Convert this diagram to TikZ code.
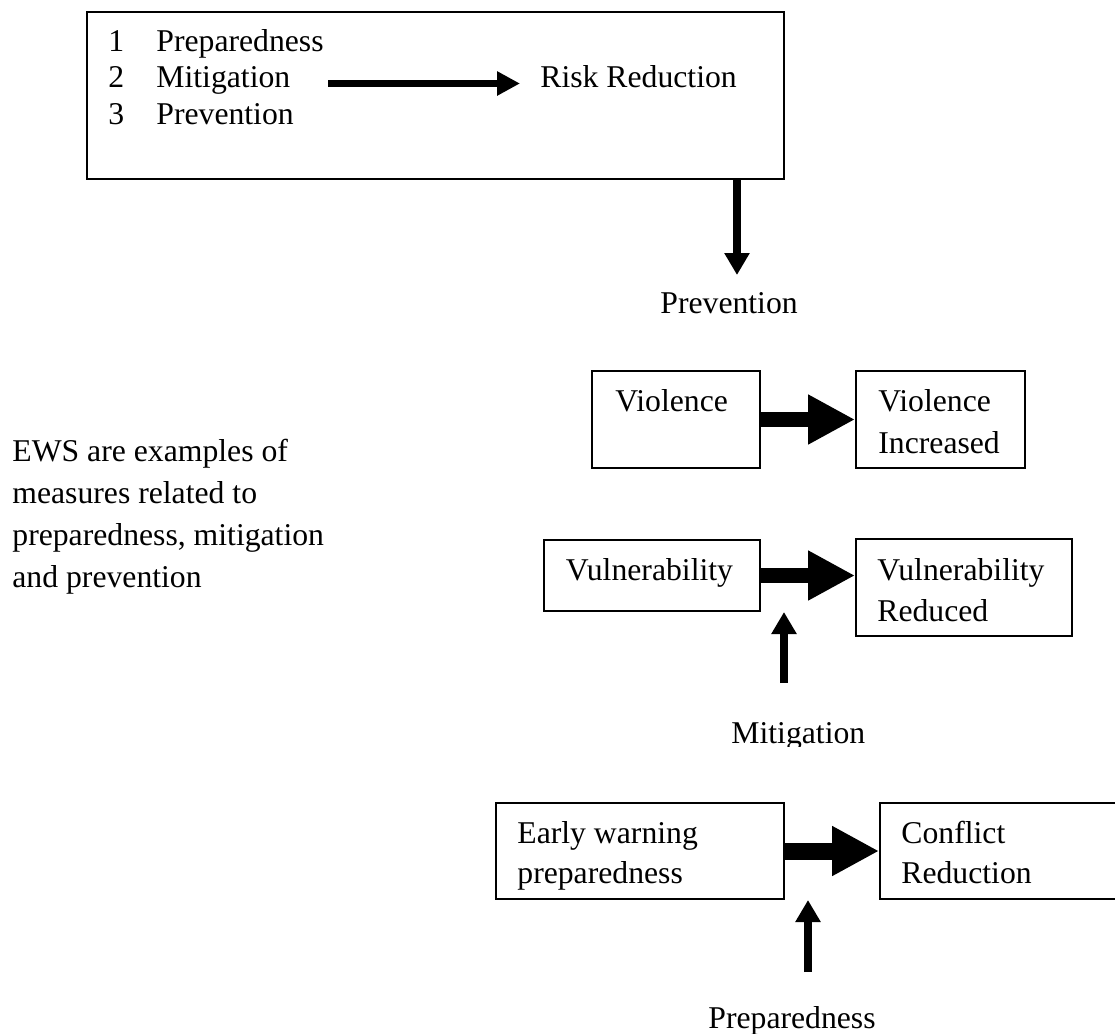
\documentclass[tikz,border=0pt]{standalone}
\usepackage{fontspec}
\setmainfont{Liberation Serif}
\usetikzlibrary{arrows.meta,fit}
\tikzset{
  box/.style={draw=black, line width=1pt, inner sep=0pt, fill=none},
  txt/.style={inner sep=0pt, anchor=base west},
  bigarrow/.style={-{Triangle[length=23.5pt,width=23.5pt]}, line width=7.7pt},
  midarrow/.style={-{Triangle[length=11.5pt,width=11.5pt]}, line width=3.8pt},
  uparrow/.style={-{Triangle[length=11pt,width=12pt]}, line width=4pt},
}
\begin{document}
\begin{tikzpicture}[x=0.5pt,y=-0.5pt,font=\fontsize{15.85pt}{19pt}\selectfont]
\useasboundingbox (0,0) rectangle (1115,1034);
\clip (0,0) rectangle (1115,1034);
% top box
\node[box, fit={(87,12) (784,179)}] (top) {};
\node[txt] (n1) at (108,51) {1};
\node[txt] (t1) at (156,51) {Preparedness};
\node[txt] (n2) at (108,87) {2};
\node[txt] (t2) at (156,87) {Mitigation};
\node[txt] (n3) at (108,124) {3};
\node[txt] (t3) at (156,124) {Prevention};
\node[txt] (rr) at (540,87) {Risk Reduction};
\coordinate (mstart) at (328,83.5);
\draw[midarrow] (mstart) -- (mstart -| rr.west) [shorten >=10pt];
% down arrow
\coordinate (dtop) at (737,179);
\coordinate (dtip) at (737,275);
\draw[uparrow] (dtop) -- (dtip);
\node[txt] (prev) at (660,313) {Prevention};
% violence row
\node[box, fit={(592,371) (760,468)}] (vio) {};
\node[txt] (viot) at (615,411) {Violence};
\node[box, fit={(856,371) (1025,468)}] (vinc) {};
\node[txt] (vinct1) at (878,411) {Violence};
\node[txt] (vinct2) at (878,453) {Increased};
\draw[bigarrow, line width=7.5pt] (vio.east) -- (vinc.west);
% EWS text
\node[txt] (e1) at (12,461) {EWS are examples of};
\node[txt] (e2) at (12,503) {measures related to};
\node[txt] (e3) at (12,545) {preparedness, mitigation};
\node[txt] (e4) at (12,587) {and prevention};
% vulnerability row
\node[box, fit={(543.5,540) (760,611)}] (vul) {};
\node[txt] (vult) at (565.5,580) {Vulnerability};
\node[box, fit={(856,539) (1072,636)}] (vred) {};
\node[txt] (vredt1) at (877,580) {Vulnerability};
\node[txt] (vredt2) at (877,621) {Reduced};
\draw[bigarrow, line width=7.5pt] (vul.east) -- (vul.east -| vred.west);
\coordinate (mbot) at (784,683);
\coordinate (mtip) at (784,612);
\draw[uparrow] (mbot) -- (mtip);
\begin{scope}
  \clip (700,700) rectangle (900,746);
  \node[txt] (mit) at (731,743) {Mitigation};
\end{scope}
% early warning row
\node[box, fit={(496,803) (784,899)}] (ew) {};
\node[txt] (ewt1) at (517,843) {Early warning};
\begin{scope}
  \clip (505,850) rectangle (780,889);
  \node[txt] (ewt2) at (517,883) {preparedness};
\end{scope}
\node[box, fit={(880,803) (1130,899)}] (cr) {};
\node[txt] (crt1) at (901,843) {Conflict};
\node[txt] (crt2) at (901,883) {Reduction};
\draw[bigarrow, line width=8.5pt] (ew.east) -- (cr.west);
\coordinate (pbot) at (808,972);
\coordinate (ptip) at (808,900);
\draw[uparrow] (pbot) -- (ptip);
\node[txt] (prep) at (708,1028) {Preparedness};
\end{tikzpicture}
\end{document}
